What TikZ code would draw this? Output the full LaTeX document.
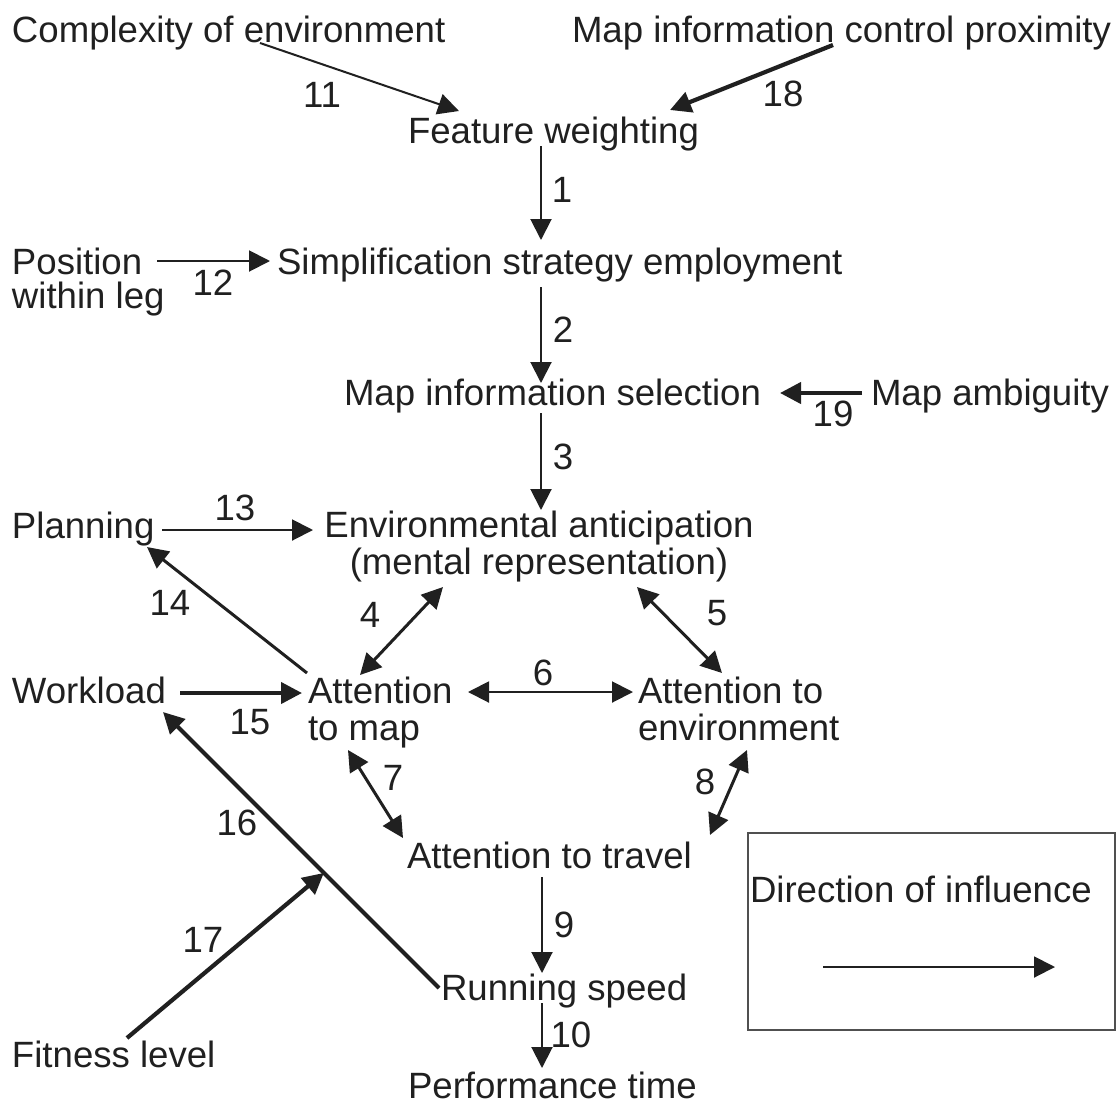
\documentclass[tikz,border=0pt]{standalone}
\usepackage{fontspec}
\setmainfont{Liberation Sans}
\usetikzlibrary{arrows.meta}
\definecolor{ink}{RGB}{32,32,32}
\definecolor{legendgray}{RGB}{80,80,80}
\begin{document}
\begin{tikzpicture}[x=1pt,y=-1pt,
  >={Triangle[length=21pt,width=21pt]},
  every node/.style={inner sep=0pt, outer sep=0pt, text=ink, font=\fontsize{36.6}{37}\selectfont},
  txt/.style={anchor=base west},
  arA/.style={draw=ink, line width=2pt, ->},
  arB/.style={draw=ink, line width=3pt, ->},
  arC/.style={draw=ink, line width=4.2pt, ->}
]
\useasboundingbox (0,0) rectangle (1120,1104);

% concept nodes (multi-line nodes: base = last line)
\node[txt] (cpx) at (12,42) {Complexity of environment};
\node[txt] (mcp) at (572,42) {Map information control proximity};
\node[txt] (fw) at (408,143) {Feature weighting};
\node[txt, align=left] (pos) at (12,308) {Position\\[-3pt]within leg};
\node[txt] (sse) at (277,274) {Simplification strategy employment};
\node[txt] (mis) at (344,405) {Map information selection};
\node[txt] (amb) at (871,405) {Map ambiguity};
\node[txt] (plan) at (12,538) {Planning};
\node[anchor=base, align=center] (env) at (539,574) {Environmental anticipation\\(mental representation)};
\node[txt] (work) at (12,703) {Workload};
\node[txt, align=left] (atm) at (308,740) {Attention\\to map};
\node[txt, align=left] (ate) at (638,740) {Attention to\\environment};
\node[txt] (att) at (407,868) {Attention to travel};
\node[txt] (run) at (441,1000) {Running speed};
\node[txt] (fit) at (12,1067) {Fitness level};
\node[txt] (perf) at (408,1098) {Performance time};

% connectors
\draw[arA] ([shift={(248,1)}]cpx.base west) -- ([shift={(51,-32)}]fw.base west);
\draw[arC] ([shift={(261,3)}]mcp.base west) -- ([shift={(262,-33)}]fw.base west);
\draw[arA] ([shift={(133,3)}]fw.base west) -- ([shift={(264,-34)}]sse.base west);
\draw[arA] ([shift={(145,-47)}]pos.base west) -- ([shift={(-7,-13)}]sse.base west);
\draw[arA] ([shift={(264,13)}]sse.base west) -- ([shift={(197,-22)}]mis.base west);
\draw[arC] ([shift={(-9,-12)}]amb.base west) -- ([shift={(436,-12)}]mis.base west);
\draw[arA] ([shift={(197,8)}]mis.base west) -- ([shift={(2,-64)}]env.base);
\draw[arA] ([shift={(150,-8)}]plan.base west) -- ([shift={(-226,-44)}]env.base);
\draw[arB] ([shift={(-1,-67)}]atm.base west) -- ([shift={(135,9)}]plan.base west);
\draw[arB,<->] ([shift={(52,-65)}]atm.base west) -- ([shift={(-96,13)}]env.base);
\draw[arB,<->] ([shift={(98,13)}]env.base) -- ([shift={(84,-67)}]ate.base west);
\draw[arC] ([shift={(168,-10)}]work.base west) -- ([shift={(-6,-47)}]atm.base west);
\draw[arA,<->] ([shift={(160,-48)}]atm.base west) -- ([shift={(-5,-48)}]ate.base west);
\draw[arB,<->] ([shift={(40,10)}]atm.base west) -- ([shift={(-4,-30)}]att.base west);
\draw[arB,<->] ([shift={(109,10)}]ate.base west) -- ([shift={(303,-33)}]att.base west);
\draw[arA] ([shift={(135,9)}]att.base west) -- ([shift={(101,-27)}]run.base west);
\draw[arA] ([shift={(101,3)}]run.base west) -- ([shift={(134,-30)}]perf.base west);
\draw[arC] ([shift={(-2,-12)}]run.base west) -- coordinate[pos=0.417] (j) ([shift={(151,9)}]work.base west);
\draw[arC] ([shift={(115,-29)}]fit.base west) -- (j);

% connector labels
\node (n1) at (562,190) {1};
\node (n2) at (563,330) {2};
\node (n3) at (563,457) {3};
\node (n4) at (370,615) {4};
\node (n5) at (717,613) {5};
\node (n6) at (543,673) {6};
\node (n7) at (393,778) {7};
\node (n8) at (705,782) {8};
\node (n9) at (564,925) {9};
\node (n10) at (571,1035) {10};
\node (n11) at (322,95) {11};
\node (n12) at (213,283) {12};
\node (n13) at (235,508) {13};
\node (n14) at (170,603) {14};
\node (n15) at (250,722) {15};
\node (n16) at (237,823) {16};
\node (n17) at (203,940) {17};
\node (n18) at (783,94) {18};
\node (n19) at (833,414) {19};

% legend
\node[draw=legendgray, line width=1.5pt, anchor=north west, minimum width=367pt, minimum height=197pt] (leg) at (748,833) {};
\node[txt] (dir) at (750,902) {Direction of influence};
\draw[arA] ([shift={(75,134)}]leg.north west) -- ([shift={(307,134)}]leg.north west);
\end{tikzpicture}
\end{document}
